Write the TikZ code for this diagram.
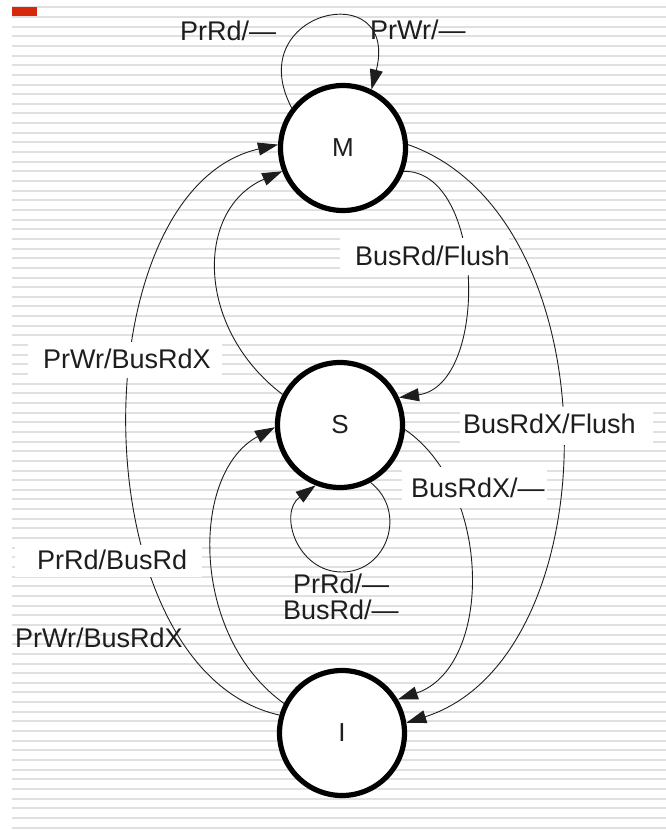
\documentclass[tikz,border=0pt]{standalone}
\usepackage{fontspec}
\setmainfont{Liberation Sans}
\usetikzlibrary{arrows.meta}
\definecolor{stripe}{RGB}{224,224,224}
\definecolor{redbar}{RGB}{214,40,10}
\definecolor{ink}{RGB}{30,30,30}
\begin{document}
\begin{tikzpicture}[x=1pt,y=-1pt,
  state/.style={circle, draw=black, line width=5.2pt, fill=white, minimum size=125pt, inner sep=0pt, font=\fontsize{26}{30}\selectfont, text=ink},
  trans/.style={draw=ink, line width=0.9pt, -{Triangle[length=20pt,width=13pt]}},
  lbl/.style={anchor=base west, inner sep=0pt, font=\fontsize{27}{32}\selectfont, text=ink},
  lblbox/.style={fill=white, draw=none}]
\useasboundingbox (0,0) rectangle (666,830);
% striped background
\foreach \i in {0,...,85} \draw[stripe, line width=2pt] (12,7.3+9.65*\i) -- (666,7.3+9.65*\i);
\fill[redbar] (12,7) rectangle (37,16);
% states
\node[state] (M) at (343,148) {M};
\node[state] (S) at (340,425) {S};
\node[state] (I) at (342,733) {I};
% transitions
\draw[trans] (M.142) .. controls (240,10) and (400,-25) .. (M.64);
\draw[trans] (M.-21) .. controls (485,170) and (490,385) .. (S.25);
\draw[trans] (M.3) .. controls (615,217) and (612,657) .. (I.9);
\draw[trans] (S.152) .. controls (195,328) and (195,209) .. (M.201);
\draw[trans] (I.164) .. controls (78,670) and (78,190) .. (M.177);
\draw[trans] (I.153) .. controls (190,636) and (190,473) .. (S.182);
\coordinate (sloop) at (342,572);
\draw[trans] (S.-62) .. controls (408,512) and (387,572) .. (sloop) .. controls (297,572) and (278,513) .. (S.-112);
\draw[trans] (S.-4) .. controls (493,490) and (493,667) .. (I.31);
% label backgrounds
\fill[lblbox] (340,238) rectangle (509,275);
\fill[lblbox] (28,342) rectangle (222,378);
\fill[lblbox] (15,545) rectangle (202,577);
\fill[lblbox] (460,407) rectangle (653,445);
\fill[lblbox] (402,467) rectangle (547,508);
% labels
\node[lbl] (l1) at (180,40) {PrRd/—};
\node[lbl] (l2) at (370,39) {PrWr/—};
\node[lbl] (l3) at (355,265) {BusRd/Flush};
\node[lbl] (l4) at (43,368) {PrWr/BusRdX};
\node[lbl] (l5) at (463,433) {BusRdX/Flush};
\node[lbl] (l6) at (411,497) {BusRdX/—};
\node[lbl] (l7) at (37,569) {PrRd/BusRd};
\node[lbl] (l8) at (293,593) {PrRd/—};
\node[lbl] (l9) at (283,619) {BusRd/—};
\node[lbl] (l10) at (15,647) {PrWr/BusRdX};
\end{tikzpicture}
\end{document}
